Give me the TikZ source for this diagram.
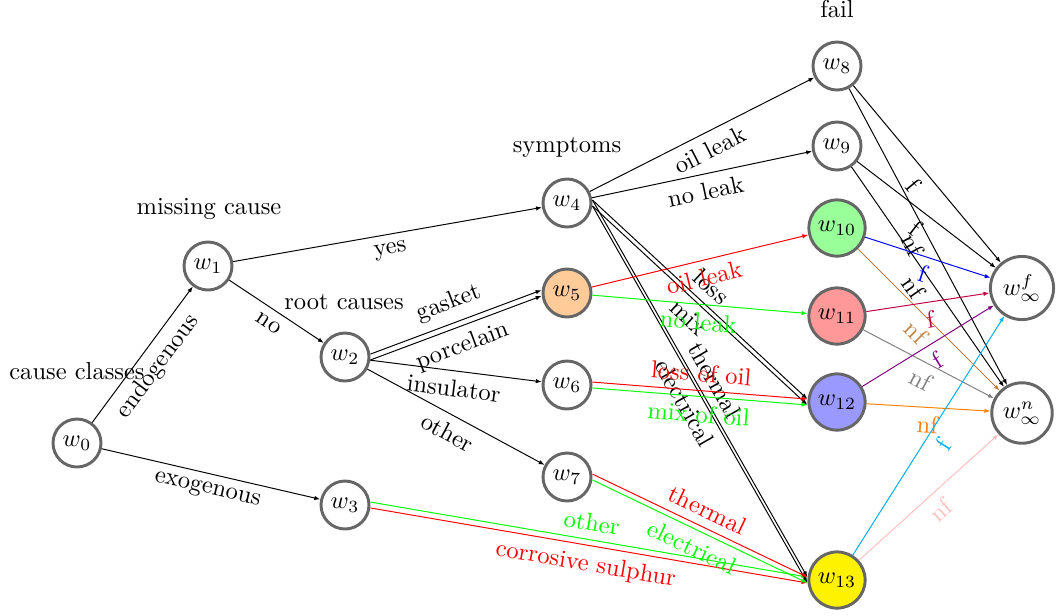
\documentclass[tikz,border=0pt]{standalone}
\usetikzlibrary{arrows.meta}
\definecolor{skyc}{HTML}{00AEEF}
\definecolor{yel}{HTML}{FFF200}
\definecolor{rim}{HTML}{666666}
\begin{document}
\begin{tikzpicture}[x=0.408pt,y=-0.408pt,
  state/.style={circle, draw=rim, line width=1.2pt, inner sep=2.4pt, fill=white},
  arr/.style={-{Latex[length=2.4pt,width=1.8pt]}, line width=0.4pt},
  lab/.style={midway, sloped, below},
  labu/.style={midway, sloped, above},
  upper/.style={transform canvas={yshift=1.2pt}},
  lower/.style={transform canvas={yshift=-1.2pt}},
  title/.style={anchor=base}]
\useasboundingbox (0,0) rectangle (1062,615);

% layer titles
\node[title] (c0) at (77,379) {cause classes};
\node[title] (c1) at (209,214) {missing cause};
\node[title] (c2) at (344,309) {root causes};
\node[title] (c3) at (567,152) {symptoms};
\node[title] (c4) at (837,17) {fail};

% states
\node[state] (w0) at (77,443) {$w_0$};
\node[state] (w1) at (208,266) {$w_1$};
\node[state] (w2) at (345,357) {$w_2$};
\node[state] (w3) at (345,505) {$w_3$};
\node[state] (w4) at (567,203) {$w_4$};
\node[state, fill=orange!40] (w5) at (567,293) {$w_5$};
\node[state] (w6) at (567,385) {$w_6$};
\node[state] (w7) at (567,477) {$w_7$};
\node[state] (w8) at (837,66) {$w_8$};
\node[state] (w9) at (837,146) {$w_9$};
\node[state, fill=green!40] (w10) at (837,228) {$w_{10}$};
\node[state, fill=red!40] (w11) at (837,316) {$w_{11}$};
\node[state, fill=blue!40] (w12) at (837,402) {$w_{12}$};
\node[state, fill=yel] (w13) at (837,580) {$w_{13}$};
\node[state] (wf) at (1022,288) {$w^f_\infty$};
\node[state] (wn) at (1022,413) {$w^n_\infty$};

% cause classes and missing cause
\draw[arr] (w0) -- node[lab]{endogenous} (w1);
\draw[arr] (w0) -- node[lab]{exogenous} (w3);
\draw[arr] (w1) -- node[lab]{yes} (w4);
\draw[arr] (w1) -- node[lab]{no} (w2);

% root causes
\draw[arr,upper] (w2.east) -- node[labu]{gasket} (w5.west);
\draw[arr,lower] (w2.east) -- node[lab]{porcelain} (w5.west);
\draw[arr] (w2) -- node[lab]{insulator} (w6);
\draw[arr] (w2) -- node[lab]{other} (w7);
\draw[arr,upper,green] (w3.east) -- node[labu]{other} (w13.west);
\draw[arr,lower,red] (w3.east) -- node[lab]{corrosive sulphur} (w13.west);

% symptoms
\draw[arr] (w4) -- node[lab]{oil leak} (w8);
\draw[arr] (w4) -- node[lab]{no leak} (w9);
\draw[arr,upper] (w4.east) -- node[labu]{loss} (w12.west);
\draw[arr,lower] (w4.east) -- node[lab]{mix} (w12.west);
\draw[arr,upper] (w4.east) -- node[labu]{thermal} (w13.west);
\draw[arr,lower] (w4.east) -- node[lab]{electrical} (w13.west);
\draw[arr,red] (w5) -- node[lab]{oil leak} (w10);
\draw[arr,green] (w5) -- node[lab]{no leak} (w11);
\draw[arr,upper,red] (w6.east) -- node[labu]{loss of oil} (w12.west);
\draw[arr,lower,green] (w6.east) -- node[lab]{mix of oil} (w12.west);
\draw[arr,upper,red] (w7.east) -- node[labu]{thermal} (w13.west);
\draw[arr,lower,green] (w7.east) -- node[lab]{electrical} (w13.west);

% fail / no fail
\draw[arr] (w8) -- node[lab]{f} (wf);
\draw[arr] (w8) -- node[lab]{nf} (wn);
\draw[arr] (w9) -- node[lab]{f} (wf);
\draw[arr] (w9) -- node[lab]{nf} (wn);
\draw[arr,blue] (w10) -- node[lab]{f} (wf);
\draw[arr,brown] (w10) -- node[lab]{nf} (wn);
\draw[arr,purple] (w11) -- node[lab]{f} (wf);
\draw[arr,gray] (w11) -- node[lab]{nf} (wn);
\draw[arr,violet] (w12) -- node[lab]{f} (wf);
\draw[arr,orange] (w12) -- node[lab]{nf} (wn);
\draw[arr,skyc] (w13) -- node[lab]{f} (wf);
\draw[arr,pink] (w13) -- node[lab]{nf} (wn);
\end{tikzpicture}
\end{document}
